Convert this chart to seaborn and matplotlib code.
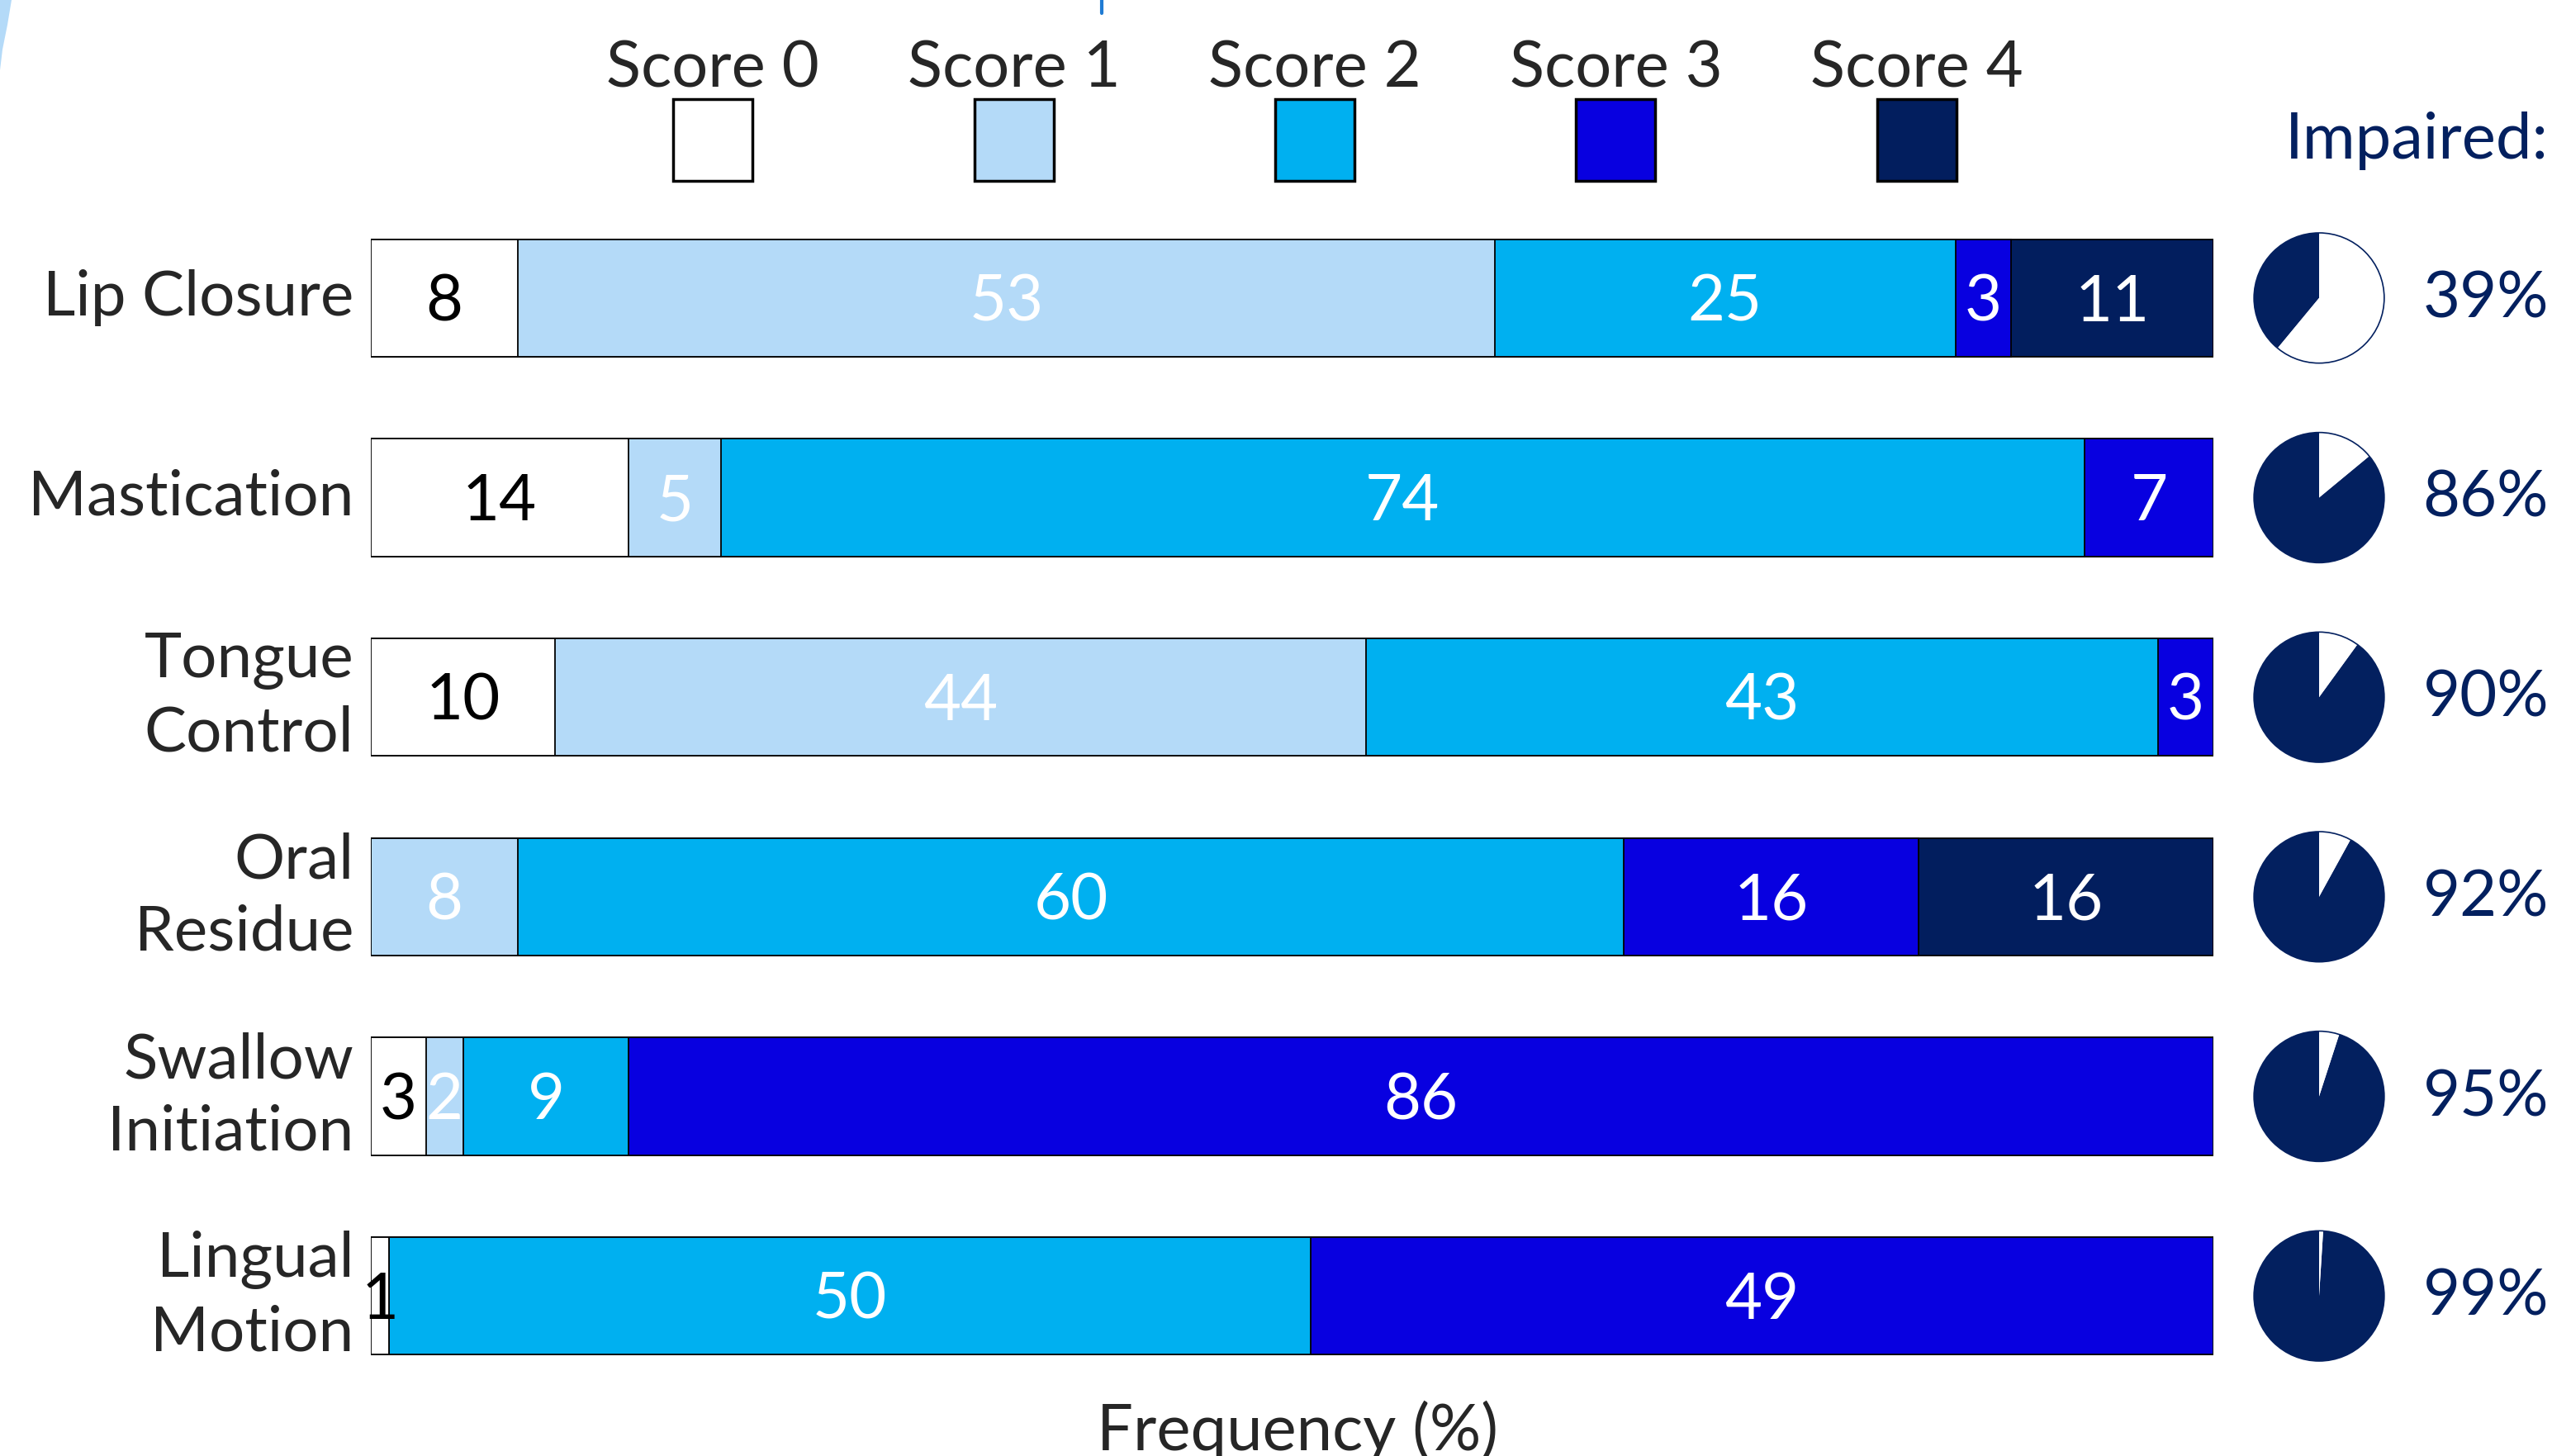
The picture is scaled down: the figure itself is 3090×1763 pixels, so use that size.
import numpy as np
import matplotlib
matplotlib.use("Agg")
import matplotlib.pyplot as plt
from matplotlib.patches import Rectangle, Circle, Polygon
from matplotlib.lines import Line2D
import seaborn as sns

# Oral-phase items and share of patients at each score (%)
categories = ["Lip Closure", "Mastication", "Tongue\nControl", "Oral\nResidue",
              "Swallow\nInitiation", "Lingual\nMotion"]
score_names = ["Score 0", "Score 1", "Score 2", "Score 3", "Score 4"]
score0 = [8, 14, 10, 0, 3, 1]
score1 = [53, 5, 44, 8, 2, 0]
score2 = [25, 74, 43, 60, 9, 50]
score3 = [3, 7, 3, 16, 86, 49]
score4 = [11, 0, 0, 16, 0, 0]
impaired = [39, 86, 90, 92, 95, 99]

score_colors = ["#FFFFFF", "#B4DAF8", "#00B0F0", "#0800E0", "#021E5E"]
label_colors = ["black", "white", "white", "white", "white"]
navy = "#03205F"
FS = 56

sns.set_theme(style="white")
plt.rcParams["font.family"] = ["Lato", "DejaVu Sans"]

W, H = 3090, 1763
fig = plt.figure(figsize=(W / 100, H / 100), dpi=100)
fig.patch.set_facecolor("white")
ax = fig.add_axes([449 / W, 1 - 1690 / H, 2231 / W, 1450 / H])

scores = np.array([score0, score1, score2, score3, score4])
cum = np.cumsum(scores, axis=0)

# stacked bars: draw cumulative totals from the top score down so each
# lower score sits in front of the ones after it
for k in range(len(score_names) - 1, -1, -1):
    sns.barplot(x=cum[k], y=categories, orient="h", color=score_colors[k],
                saturation=1, width=0.588, edgecolor="black", linewidth=1.3,
                errorbar=None, ax=ax)

for i in range(len(categories)):
    left = 0
    for k in range(len(score_names)):
        v = scores[k, i]
        if v > 0:
            ax.annotate(str(v), (left + v / 2, i), xytext=(0, -4.5),
                        textcoords="offset points", ha="center", va="center",
                        fontsize=FS, color=label_colors[k])
        left += v

ax.set_xlim(0, 100)
ax.set_ylim(len(categories) - 0.5, -0.5)
ax.set_yticks(range(len(categories)))
ax.set_yticklabels(categories, fontsize=55, linespacing=1.32)
for t in ax.get_yticklabels():
    t.set_verticalalignment("center")
ax.set_ylabel("")
ax.set_xticks([])
ax.tick_params(axis="y", length=0, pad=15)
for s in ax.spines.values():
    s.set_visible(False)
ax.set_xlabel("Frequency (%)", fontsize=FS)
ax.xaxis.set_label_coords(0.5027, -0.004)

# legend swatches across the top
for k, name in enumerate(score_names):
    cx = 863 + k * 364.5
    fig.add_artist(Rectangle(((cx - 48) / W, 1 - 219 / H), 96 / W, 99 / H,
                             transform=fig.transFigure, facecolor=score_colors[k],
                             edgecolor="black", linewidth=2.5))
    fig.text(cx / W, 1 - 84 / H, name, ha="center", va="center", fontsize=FS)

fig.text(3086 / W, 1 - 171 / H, "Impaired:", ha="right", va="center",
         fontsize=FS, color=navy)

# impaired share per item as a small pie plus percentage
for i, pct in enumerate(impaired):
    y_disp = ax.transData.transform((0, i))[1]
    pax = fig.add_axes([(2808 - 82) / W, (y_disp - 82) / H, 164 / W, 164 / H])
    pax.pie([pct, 100 - pct], colors=[navy, "white"], startangle=90,
            counterclock=True, wedgeprops=dict(linewidth=0))
    pax.add_patch(Circle((0, 0), 1, fill=False, edgecolor=navy, linewidth=1.2))
    pax.set_xlim(-1.04, 1.04)
    pax.set_ylim(-1.04, 1.04)
    pax.axis("off")
    fig.text(3086 / W, (y_disp - 2) / H, f"{pct}%", ha="right", va="center",
             fontsize=FS, color=navy)

# slide decorations at the top edge
fig.add_artist(Polygon([(0, 1), (14 / W, 1), (9 / W, 1 - 30 / H),
                        (3 / W, 1 - 60 / H), (0, 1 - 85 / H)],
                       closed=True, transform=fig.transFigure,
                       facecolor="#B4DAF8", edgecolor="none"))
fig.add_artist(Line2D([1334 / W, 1334 / W], [1, 1 - 16 / H],
                      transform=fig.transFigure, color="#1F7BD3", linewidth=3))

fig.savefig("out.png", dpi=100, facecolor="white")
